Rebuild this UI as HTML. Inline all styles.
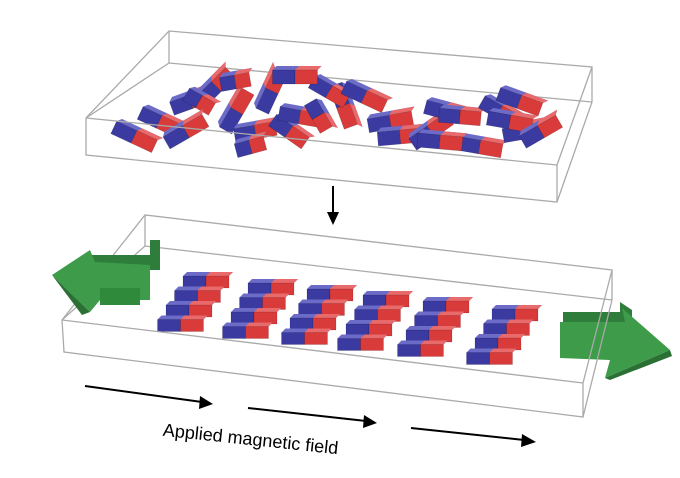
<!DOCTYPE html>
<html><head><meta charset="utf-8"><style>
html,body{margin:0;padding:0;background:#fff;width:680px;height:478px;overflow:hidden}
svg{display:block}
</style></head><body>
<svg id="fig" width="680" height="478" viewBox="0 0 680 478" xmlns="http://www.w3.org/2000/svg">
<g id="topBox" fill="none" stroke="#aaa" stroke-width="1.3">
  <polyline points="86,118 169,31 592,67 592,102"/>
  <line x1="169" y1="31" x2="169" y2="63"/>
  <polyline points="86,118 169,63 592,102"/>
</g>
<g id="topMagnets"></g>
<g fill="none" stroke="#aaa" stroke-width="1.3">
  <polyline points="86,118 86,155 557,202 592,102"/>
  <line x1="86" y1="118" x2="557" y2="165"/>
  <line x1="557" y1="165" x2="557" y2="202"/>
  <line x1="557" y1="165" x2="592" y2="67"/>
</g>
<g>
  <line x1="333" y1="186" x2="333" y2="214" stroke="#000" stroke-width="2"/>
  <polygon points="327,212 339,212 333,225" fill="#000"/>
</g>
<g fill="none" stroke="#aaa" stroke-width="1.3">
  <polyline points="62,320 145,215 612,270 612,300"/>
  <line x1="145" y1="215" x2="145" y2="246"/>
  <polyline points="62,320 145,246 612,300"/>
</g>
<g>
  <polygon points="88,255 150,255 150,240 160,240 160,270 88,270" fill="#2e7d3a"/>
  <polygon points="52,275 90,250 95,262 150,265 150,300 100,300 90,312" fill="#3d9b4a"/>
  <polygon points="100,288 140,288 140,305 100,305" fill="#2f8a3c"/>
  <polygon points="52,275 90,312 82,315" fill="#2a7034"/>
</g>
<g id="alignedMagnets"></g>
<g>
  <polygon points="563,312 620,312 620,302 632,310 632,330 563,330" fill="#2e7d3a"/>
  <polygon points="560,322 625,322 622,308 670,350 605,378 610,360 560,358" fill="#3d9b4a"/>
  <polygon points="605,378 670,350 672,356 610,380" fill="#2a7034"/>
</g>
<g fill="none" stroke="#aaa" stroke-width="1.3">
  <polyline points="62,320 64,352 583,417 583,383 612,270"/>
  <line x1="62" y1="320" x2="583" y2="383"/>
  <line x1="583" y1="417" x2="612" y2="300"/>
</g>
<g stroke="#000" stroke-width="2" fill="#000">
  <line x1="85" y1="386" x2="202" y2="402"/><polygon points="200,396 213,404 199,409" stroke="none"/>
  <line x1="248" y1="408" x2="366" y2="421"/><polygon points="364,415 377,423 363,428" stroke="none"/>
  <line x1="411" y1="428" x2="524" y2="440"/><polygon points="522,434 536,442 521,447" stroke="none"/>
</g>
<text x="250" y="445" font-family="Liberation Sans, sans-serif" font-size="18" text-anchor="middle" fill="#000" transform="rotate(6 250 445)">Applied magnetic field</text>
</svg>
<script>
const NS='http://www.w3.org/2000/svg';
// aligned columns: left x of top magnet, top y of top magnet
const colX=[183,248,307,363,423,492];
const colY=[272,279,285,291,297,305];
const perCol=[4,4,4,4,4,4];
// random magnets: centre x, centre y, angle deg, length
const rx=[135,160,190,215,235,200,185,255,270,290,300,320,345,330,365,390,400,430,445,460,480,500,520,525,510,540,235,250,295,440];
const ry=[135,120,100,85,110,100,130,130,90,130,115,115,105,90,95,120,135,130,110,115,145,110,100,130,120,130,80,145,75,140];
const ra=[25,25,-20,-45,-60,30,-30,-10,-65,35,10,60,70,30,25,-10,-5,-35,15,5,10,30,20,-10,10,-30,-10,-15,0,5];
const rl=[45,42,40,40,45,30,45,42,45,40,42,32,45,40,45,45,45,45,40,42,45,40,45,45,45,42,30,30,45,45];
function rect(g,x,y,w,h,fill,name){const r=document.createElementNS(NS,'rect');
r.setAttribute('x',x);r.setAttribute('y',y);r.setAttribute('width',w);r.setAttribute('height',h);r.setAttribute('fill',fill);
r.setAttribute('stroke','rgba(0,0,0,0.25)');r.setAttribute('stroke-width','0.5');


g.appendChild(r);}
function magnet(g,x,y,w,h){
  const p=document.createElementNS(NS,'polygon');
  p.setAttribute('points',`${x},${y+4} ${x+4},${y} ${x+w+4},${y} ${x+w},${y+4}`);
  p.setAttribute('fill','#6c6cc8');
  
  
  g.appendChild(p);
  const p2=document.createElementNS(NS,'polygon');
  p2.setAttribute('points',`${x+w/2},${y+4} ${x+w/2+4},${y} ${x+w+4},${y} ${x+w},${y+4}`);
  p2.setAttribute('fill','#e86a6a');
  
  
  g.appendChild(p2);
  rect(g,x,y+4,w/2,h,'#3a3aa0','magnet-north');
  rect(g,x+w/2,y+4,w/2,h,'#d93a3a','magnet-south');
}
const ag=document.getElementById('alignedMagnets');
for(let c=0;c<colX.length;c++){
  for(let i=0;i<perCol[c];i++){
    magnet(ag,colX[c]-i*8.5,colY[c]+i*14.5,46,12);
  }
}
const tg=document.getElementById('topMagnets');
for(let i=0;i<rx.length;i++){
  const g=document.createElementNS(NS,'g');
  g.setAttribute('transform',`translate(${rx[i]},${ry[i]}) rotate(${ra[i]})`);
  
  
  magnet(g,-rl[i]/2,-9,rl[i],14);
  tg.appendChild(g);
}
</script>
</body></html>
